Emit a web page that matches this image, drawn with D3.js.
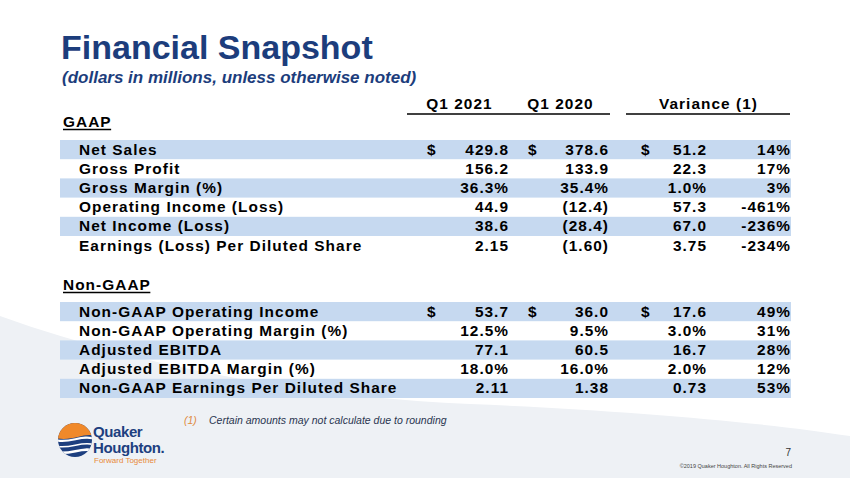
<!DOCTYPE html>
<html>
<head>
<meta charset="utf-8">
<script src="https://cdn.jsdelivr.net/npm/d3@7"></script>
<style>
  body { margin: 0; background: #fff; }
  svg { display: block; font-family: "Liberation Sans", Arial, sans-serif; }
  .cell { font-size: 14px; font-weight: bold; letter-spacing: 0.95px; fill: #000; }
</style>
</head>
<body>
<svg id="chart" width="850" height="478"></svg>
<script>
// Column headers
const columnHeaders = ["Q1 2021", "Q1 2020", "Variance (1)"];

// GAAP rows
const gaapLabels = ["Net Sales", "Gross Profit", "Gross Margin (%)", "Operating Income (Loss)",
  "Net Income (Loss)", "Earnings (Loss) Per Diluted Share"];
const gaapKinds = ["usd", "num", "pct", "num", "num", "eps"];
const gaapQ12021 = [429.8, 156.2, 36.3, 44.9, 38.6, 2.15];
const gaapQ12020 = [378.6, 133.9, 35.4, -12.4, -28.4, -1.60];
const gaapVariance = [51.2, 22.3, 1.0, 57.3, 67.0, 3.75];
const gaapVariancePct = [14, 17, 3, -461, -236, -234];

// Non-GAAP rows
const nonGaapLabels = ["Non-GAAP Operating Income", "Non-GAAP Operating Margin (%)", "Adjusted EBITDA",
  "Adjusted EBITDA Margin (%)", "Non-GAAP Earnings Per Diluted Share"];
const nonGaapKinds = ["usd", "pct", "num", "pct", "eps"];
const nonGaapQ12021 = [53.7, 12.5, 77.1, 18.0, 2.11];
const nonGaapQ12020 = [36.0, 9.5, 60.5, 16.0, 1.38];
const nonGaapVariance = [17.6, 3.0, 16.7, 2.0, 0.73];
const nonGaapVariancePct = [49, 31, 28, 12, 53];

const LS = 0.95, SX = 1.1;
const svg = d3.select("#chart");

// slide text is a little wider than plain Arial, stretch it
function place(sel, x, y) {
    return sel.attr("transform", `translate(${x},${y}) scale(${SX},1)`);
}

// background swoosh
svg.append("path")
    .attr("d", "M0,316 C150,370 320,398 470,404 C620,410 760,422 850,436 L850,478 L0,478 Z")
    .attr("fill", "#eef1f5");

// Title
svg.append("text")
    .attr("x", 61).attr("y", 59)
    .attr("font-size", 34).attr("font-weight", "bold")
    .attr("fill", "#1c3d7c")
    .text("Financial Snapshot");

svg.append("text")
    .attr("x", 62).attr("y", 83)
    .attr("font-size", 17).attr("font-weight", "bold").attr("font-style", "italic")
    .attr("fill", "#1c3d7c")
    .text("(dollars in millions, unless otherwise noted)");

// Column scales
const colKeys = ["q21", "q20", "var", "pct"];
const xRight = d3.scaleOrdinal().domain(colKeys).range([508, 608, 706, 790]);
const xDollar = d3.scaleOrdinal().domain(["q21", "q20", "var"]).range([427, 528, 641]);
const xHeader = d3.scaleOrdinal().domain(columnHeaders).range([459, 560, 708]);

svg.selectAll("text.hdr")
    .data(columnHeaders)
    .join("text")
    .attr("class", "cell hdr")
    .attr("text-anchor", "middle")
    .attr("font-size", 14.5)
    .each(function(d) { place(d3.select(this), xHeader(d) + LS / 2, 109); })
    .text(d => d);

svg.append("line").attr("x1", 407).attr("x2", 610).attr("y1", 114).attr("y2", 114)
    .attr("stroke", "#000").attr("stroke-width", 1.5);
svg.append("line").attr("x1", 626).attr("x2", 790).attr("y1", 114).attr("y2", 114)
    .attr("stroke", "#000").attr("stroke-width", 1.5);

const fmt1 = d3.format(".1f"), fmt2 = d3.format(".2f");

function formatValue(v, kind) {
    let s = kind === "eps" ? fmt2(Math.abs(v)) : fmt1(Math.abs(v));
    if (kind === "pct") s += "%";
    return v < 0 ? "(" + s + ")" : s;
}

function formatPct(v) {
    return (v < 0 ? "-" : "") + Math.abs(v) + "%";
}

function drawSection(title, titleY, top, labels, kinds, q21, q20, variance, pct) {
    const rows = labels.map((label, i) => ({
        label, kind: kinds[i], q21: q21[i], q20: q20[i], var: variance[i], pct: pct[i]
    }));

    const y = d3.scaleBand()
        .domain(d3.range(rows.length))
        .range([top, top + rows.length * 19.2]);

    const heading = place(svg.append("text"), 63, titleY)
        .attr("class", "cell")
        .attr("letter-spacing", 0.4)
        .text(title);
    const w = heading.node().getComputedTextLength() * SX;
    svg.append("line")
        .attr("x1", 63).attr("x2", 63 + w - 0.5)
        .attr("y1", titleY + 2.5).attr("y2", titleY + 2.5)
        .attr("stroke", "#000").attr("stroke-width", 1.3);

    const g = svg.append("g");
    const row = g.selectAll("g.row")
        .data(rows)
        .join("g")
        .attr("class", "row")
        .attr("transform", (d, i) => `translate(0,${y(i)})`);

    row.filter((d, i) => i % 2 === 0)
        .append("rect")
        .attr("x", 60).attr("width", 731)
        .attr("height", y.bandwidth())
        .attr("fill", "#c6d9f0");

    const base = y.bandwidth() / 2 + 5;

    place(row.append("text"), 79, base)
        .attr("class", "cell")
        .text(d => d.label);

    ["q21", "q20", "var"].forEach(k => {
        place(row.append("text"), xRight(k) + LS * SX, base)
            .attr("class", "cell")
            .attr("text-anchor", "end")
            .text(d => formatValue(d[k], d.kind));

        place(row.filter(d => d.kind === "usd").append("text"), xDollar(k), base)
            .attr("class", "cell")
            .text("$");
    });

    place(row.append("text"), xRight("pct") + LS * SX, base)
        .attr("class", "cell")
        .attr("text-anchor", "end")
        .text(d => formatPct(d.pct));
}

drawSection("GAAP", 127, 140, gaapLabels, gaapKinds, gaapQ12021, gaapQ12020, gaapVariance, gaapVariancePct);
drawSection("Non-GAAP", 290, 302, nonGaapLabels, nonGaapKinds, nonGaapQ12021, nonGaapQ12020, nonGaapVariance, nonGaapVariancePct);

// Footnote
svg.append("text")
    .attr("x", 184).attr("y", 424)
    .attr("font-size", 10.5).attr("font-style", "italic")
    .attr("fill", "#e08a3c")
    .text("(1)");
svg.append("text")
    .attr("x", 209).attr("y", 424)
    .attr("font-size", 10.5).attr("font-style", "italic")
    .attr("fill", "#2a3550")
    .text("Certain amounts may not calculate due to rounding");

// Logo
const logo = svg.append("g");
svg.append("clipPath").attr("id", "emblem")
    .append("circle").attr("cx", 75).attr("cy", 440).attr("r", 17);
const em = logo.append("g").attr("clip-path", "url(#emblem)");
em.append("rect").attr("x", 55).attr("y", 420).attr("width", 40).attr("height", 40).attr("fill", "#1d3f7f");
em.append("path").attr("d", "M55,420 L95,420 L95,436 C85,432 72,442 55,438 Z").attr("fill", "#f0892a");
em.append("path").attr("d", "M55,440 C70,444 82,434 95,439").attr("stroke", "#fff").attr("stroke-width", 2.2).attr("fill", "none");
em.append("path").attr("d", "M55,446 C70,450 82,440 95,445").attr("stroke", "#fff").attr("stroke-width", 1.6).attr("fill", "none");
em.append("path").attr("d", "M55,452 C70,456 82,446 95,451").attr("stroke", "#fff").attr("stroke-width", 2.4).attr("fill", "none");

logo.append("text").attr("x", 93).attr("y", 437)
    .attr("font-size", 15).attr("font-weight", "bold").attr("fill", "#1d3f7f")
    .attr("letter-spacing", -0.4)
    .text("Quaker");
logo.append("text").attr("x", 93).attr("y", 453)
    .attr("font-size", 15).attr("font-weight", "bold").attr("fill", "#1d3f7f")
    .attr("letter-spacing", -0.4)
    .text("Houghton.");
logo.append("text").attr("x", 94).attr("y", 463)
    .attr("font-size", 8).attr("fill", "#e8893a")
    .text("Forward Together");

// page number and copyright
svg.append("text").attr("x", 791).attr("y", 456)
    .attr("text-anchor", "end").attr("font-size", 10).attr("fill", "#333")
    .text("7");
svg.append("text").attr("x", 792).attr("y", 468)
    .attr("text-anchor", "end").attr("font-size", 5.5).attr("fill", "#444")
    .text("©2019 Quaker Houghton.  All Rights Reserved");
</script>
</body>
</html>
